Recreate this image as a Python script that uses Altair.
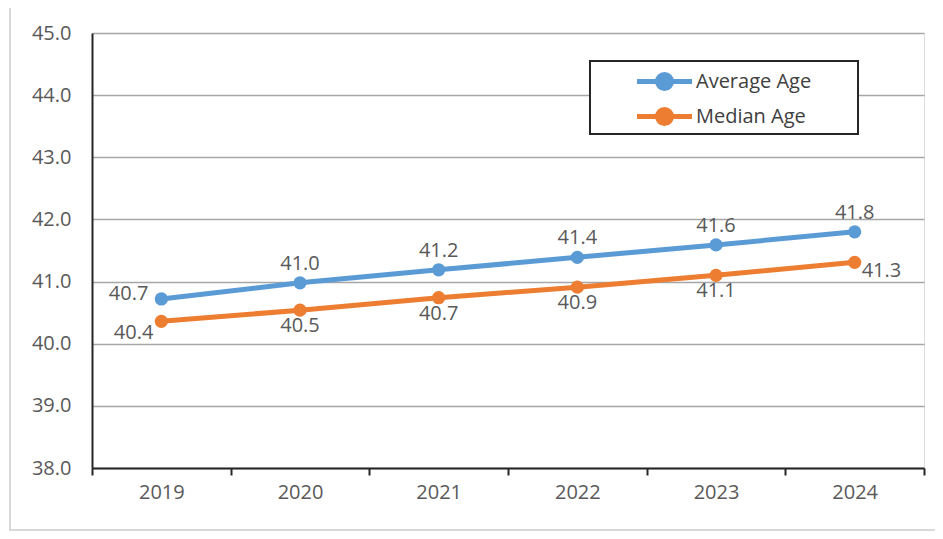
import altair as alt
import pandas as pd

years = ["2019", "2020", "2021", "2022", "2023", "2024"]
average_age = [40.72, 40.98, 41.19, 41.39, 41.59, 41.80]
median_age = [40.36, 40.54, 40.74, 40.91, 41.10, 41.31]
series_names = ["Average Age", "Median Age"]
series_colors = ["#5B9BD5", "#ED7D31"]
y_ticks = [38, 39, 40, 41, 42, 43, 44, 45]

rows = []
for y, a, m in zip(years, average_age, median_age):
    rows.append({"year": y, "series": series_names[0], "value": a})
    rows.append({"year": y, "series": series_names[1], "value": m})
df = pd.DataFrame(rows)

FONT = "Open Sans"
TXT = "#595959"

x_enc = alt.X(
    "year:N",
    title=None,
    sort=years,
    scale=alt.Scale(type="band", paddingInner=0, paddingOuter=0),
    axis=alt.Axis(
        tickBand="extent", ticks=True, tickSize=7, tickColor="#262626", tickWidth=2,
        domain=True, domainColor="#262626", domainWidth=2, grid=False,
        labelAngle=0, labelPadding=7, labelFontSize=20, labelColor=TXT, labelFont=FONT,
    ),
)
y_enc = alt.Y(
    "value:Q",
    title=None,
    scale=alt.Scale(domain=[38, 45], nice=False, zero=False),
    axis=alt.Axis(
        values=y_ticks, format=".1f", ticks=False, domain=True, domainColor="#262626",
        domainWidth=2, grid=True, gridColor="#a6a6a6", gridWidth=1.5,
        labelPadding=21, labelFontSize=20, labelColor=TXT, labelFont=FONT,
    ),
)
legend_path = "M-2.75,0H2.75M0.7,0A0.7,0.7,0,1,1,-0.7,0A0.7,0.7,0,1,1,0.7,0Z"
color_enc = alt.Color(
    "series:N",
    scale=alt.Scale(domain=series_names, range=series_colors),
    legend=alt.Legend(
        title=None, orient="none", legendX=560, legendY=36, padding=0,
        symbolType=legend_path, symbolSize=400, symbolStrokeWidth=5,
        labelOffset=19, rowPadding=0, labelFontSize=20, labelColor="#404040",
        labelFont=FONT,
    ),
)

base = alt.Chart(df).encode(x=x_enc, y=y_enc)

lines = base.mark_line(strokeWidth=5).encode(color=color_enc)
points = base.mark_point(filled=True, size=175, opacity=1).encode(color=color_enc)

txt = dict(fontSize=20, color=TXT, font=FONT)
is_avg = alt.datum.series == series_names[0]
is_med = alt.datum.series == series_names[1]
first = alt.datum.year == years[0]
last = alt.datum.year == years[-1]

lab = base.encode(text=alt.Text("value:Q", format=".1f"))
avg_first = lab.transform_filter(is_avg & first).mark_text(align="right", baseline="middle", dx=-13, dy=-5, **txt)
avg_rest = lab.transform_filter(is_avg & ~first).mark_text(align="center", baseline="bottom", dy=-9, **txt)
med_first = lab.transform_filter(is_med & first).mark_text(align="right", baseline="middle", dx=-8, dy=12, **txt)
med_mid = lab.transform_filter(is_med & ~first & ~last).mark_text(align="center", baseline="top", dy=6, **txt)
med_last = lab.transform_filter(is_med & last).mark_text(align="left", baseline="middle", dx=7, dy=9, **txt)

one = pd.DataFrame({"a": [0]})
frame = alt.Chart(one).mark_rect(fill=None, stroke="#d9d9d9", strokeWidth=2).encode(
    x=alt.value(-82), x2=alt.value(860), y=alt.value(-28), y2=alt.value(497)
)
legend_box = alt.Chart(one).mark_rect(fill="white", stroke="#262626", strokeWidth=2).encode(
    x=alt.value(498), x2=alt.value(766), y=alt.value(28), y2=alt.value(101)
)

chart = alt.layer(
    frame, legend_box, lines, points, avg_first, avg_rest, med_first, med_mid, med_last
).properties(
    width=832, height=435,
    autosize=alt.AutoSizeParams(type="none"),
    padding={"left": 84, "top": 25, "right": 11, "bottom": 63},
).configure_view(stroke="#262626", strokeWidth=2).configure(background="white")

chart.save("out.html", embed_options={"renderer": "svg", "actions": False})
